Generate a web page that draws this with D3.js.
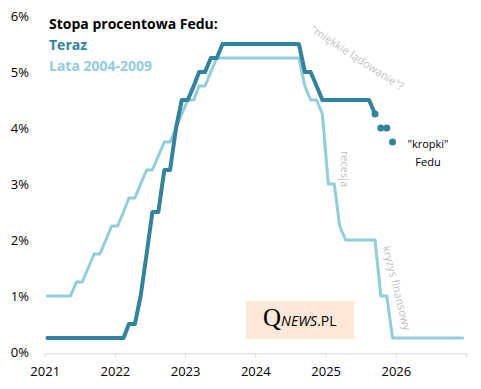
<!DOCTYPE html>
<html>
<head>
<meta charset="utf-8">
<script src="https://cdn.jsdelivr.net/npm/d3@7"></script>
<style>
  body { margin: 0; background: #fff; }
  text { font-family: "Open Sans", sans-serif; }
</style>
</head>
<body>
<div id="chart"></div>
<script>
// Fed funds upper bound, monthly, Jan 2021 - Sep 2025
const terazStart = "2021-01";
const terazValues = [
  0.25, 0.25, 0.25, 0.25, 0.25, 0.25, 0.25, 0.25, 0.25, 0.25, 0.25, 0.25,
  0.25, 0.25, 0.5, 0.5, 1.0, 1.75, 2.5, 2.5, 3.25, 3.25, 4.0, 4.5,
  4.5, 4.75, 5.0, 5.0, 5.25, 5.25, 5.5, 5.5, 5.5, 5.5, 5.5, 5.5,
  5.5, 5.5, 5.5, 5.5, 5.5, 5.5, 5.5, 5.5, 5.0, 5.0, 4.75, 4.5,
  4.5, 4.5, 4.5, 4.5, 4.5, 4.5, 4.5, 4.5, 4.25
];

// same thing for 2004-2009, shifted by 17 years onto the 2021 axis
const lataStart = "2004-01";
const lataShift = 17;
const lataValues = [
  1.0, 1.0, 1.0, 1.0, 1.0, 1.25, 1.25, 1.5, 1.75, 1.75, 2.0, 2.25,
  2.25, 2.5, 2.75, 2.75, 3.0, 3.25, 3.25, 3.5, 3.75, 3.75, 4.0, 4.25,
  4.5, 4.5, 4.75, 4.75, 5.0, 5.25, 5.25, 5.25, 5.25, 5.25, 5.25, 5.25,
  5.25, 5.25, 5.25, 5.25, 5.25, 5.25, 5.25, 5.25, 4.75, 4.5, 4.5, 4.25,
  3.0, 3.0, 2.25, 2.0, 2.0, 2.0, 2.0, 2.0, 2.0, 1.0, 1.0, 0.25,
  0.25, 0.25, 0.25, 0.25, 0.25, 0.25, 0.25, 0.25, 0.25, 0.25, 0.25, 0.25
];

// "kropki" Fedu
const kropkiMonths = ["2025-10", "2025-11", "2025-12"];
const kropkiValues = [4.0, 4.0, 3.75];

const yTicks = [0, 1, 2, 3, 4, 5, 6];
const xTicks = [2021, 2022, 2023, 2024, 2025, 2026, 2027];

const dark = "#31849b", light = "#92cddc", grey = "#bfbfbf";

const width = 481, height = 389;

const svg = d3.select("#chart")
  .append("svg")
    .attr("width", width)
    .attr("height", height);

const x = d3.scaleTime()
  .domain([new Date(2021, 0, 1), new Date(2027, 0, 1)])
  .range([44.7, 466]);
const y = d3.scaleLinear()
  .domain([0, 6])
  .range([352, 16]);

function monthDate(start, i, shift) {
  const p = start.split("-").map(Number);
  return new Date(p[0] + (shift || 0), p[1] - 1 + i, 15);
}

const teraz = terazValues.map((v, i) => ({date: monthDate(terazStart, i), value: v}));
const lata = lataValues.map((v, i) => ({date: monthDate(lataStart, i, lataShift), value: v}));
const kropki = kropkiMonths.map((m, i) => ({date: monthDate(m, 0), value: kropkiValues[i]}));

// X axis
const xAxis = svg.append("g")
  .attr("transform", `translate(0,${353.3})`)
  .call(d3.axisBottom(x)
    .tickValues(xTicks.map(t => new Date(t, 0, 1)))
    .tickSize(4)
    .tickSizeOuter(0)
    .tickFormat(d => d.getFullYear() < 2027 ? d.getFullYear() : ""));
xAxis.select(".domain").attr("stroke", "#d9d9d9");
xAxis.selectAll(".tick line").attr("stroke", "#d9d9d9");
xAxis.selectAll(".tick text")
  .attr("y", 22.7)
  .attr("dy", 0)
  .attr("fill", "#000")
  .style("font-size", "13px")
  .style("font-family", "'Open Sans', sans-serif");

// Y labels (no axis line)
svg.append("g")
  .selectAll("text")
  .data(yTicks)
  .join("text")
    .attr("x", 29)
    .attr("y", d => y(d) + 4.5)
    .attr("text-anchor", "end")
    .style("font-size", "13px")
    .text(d => d + "%");

const line = d3.line()
  .x(d => x(d.date))
  .y(d => y(d.value));

svg.append("path")
  .datum(lata)
  .attr("d", line)
  .attr("fill", "none")
  .attr("stroke", light)
  .attr("stroke-width", 3)
  .attr("stroke-linejoin", "round")
  .attr("stroke-linecap", "round");

svg.append("path")
  .datum(teraz)
  .attr("d", line)
  .attr("fill", "none")
  .attr("stroke", dark)
  .attr("stroke-width", 4)
  .attr("stroke-linejoin", "round")
  .attr("stroke-linecap", "round");

// end point of the current line
const last = teraz[teraz.length - 1];
svg.append("circle")
  .attr("cx", x(last.date))
  .attr("cy", y(last.value))
  .attr("r", 3.5)
  .attr("fill", dark);

svg.append("g")
  .selectAll("circle")
  .data(kropki)
  .join("circle")
    .attr("cx", d => x(d.date))
    .attr("cy", d => y(d.value))
    .attr("r", 3.5)
    .attr("fill", dark);

// title / legend
svg.append("text")
  .attr("x", 49).attr("y", 29)
  .style("font-size", "14px").style("font-weight", "bold")
  .attr("fill", "#000")
  .text("Stopa procentowa Fedu:");
svg.append("text")
  .attr("x", 49).attr("y", 49.5)
  .style("font-size", "14px").style("font-weight", "bold")
  .attr("fill", dark)
  .text("Teraz");
svg.append("text")
  .attr("x", 49).attr("y", 70.5)
  .style("font-size", "14px").style("font-weight", "bold")
  .attr("fill", light)
  .text("Lata 2004-2009");

// annotations
svg.append("text")
  .attr("transform", "translate(355,61) rotate(33)")
  .attr("text-anchor", "middle")
  .attr("fill", grey)
  .style("font-size", "11px")
  .text("\"miękkie lądowanie\"?");

svg.append("text")
  .attr("transform", "translate(341,169) rotate(90)")
  .attr("text-anchor", "middle")
  .attr("fill", grey)
  .style("font-size", "11px")
  .text("recesja");

svg.append("text")
  .attr("transform", "translate(393,289) rotate(76)")
  .attr("text-anchor", "middle")
  .attr("fill", grey)
  .style("font-size", "11px")
  .text("kryzys finansowy");

svg.append("text")
  .attr("x", 428).attr("y", 148)
  .attr("text-anchor", "middle")
  .style("font-size", "11px")
  .text("\"kropki\"");
svg.append("text")
  .attr("x", 428).attr("y", 165.5)
  .attr("text-anchor", "middle")
  .style("font-size", "11px")
  .text("Fedu");

// logo
svg.append("rect")
  .attr("x", 246).attr("y", 301)
  .attr("width", 108).attr("height", 38)
  .attr("fill", "#fde9d9");
const logo = svg.append("text")
  .attr("x", 263).attr("y", 326)
  .attr("fill", "#000");
logo.append("tspan")
  .style("font-family", "'Liberation Serif', serif")
  .style("font-size", "25px")
  .text("Q");
logo.append("tspan")
  .style("font-size", "14px")
  .style("font-style", "italic")
  .text("NEWS");
logo.append("tspan")
  .style("font-size", "14px")
  .text(".PL");
</script>
</body>
</html>
